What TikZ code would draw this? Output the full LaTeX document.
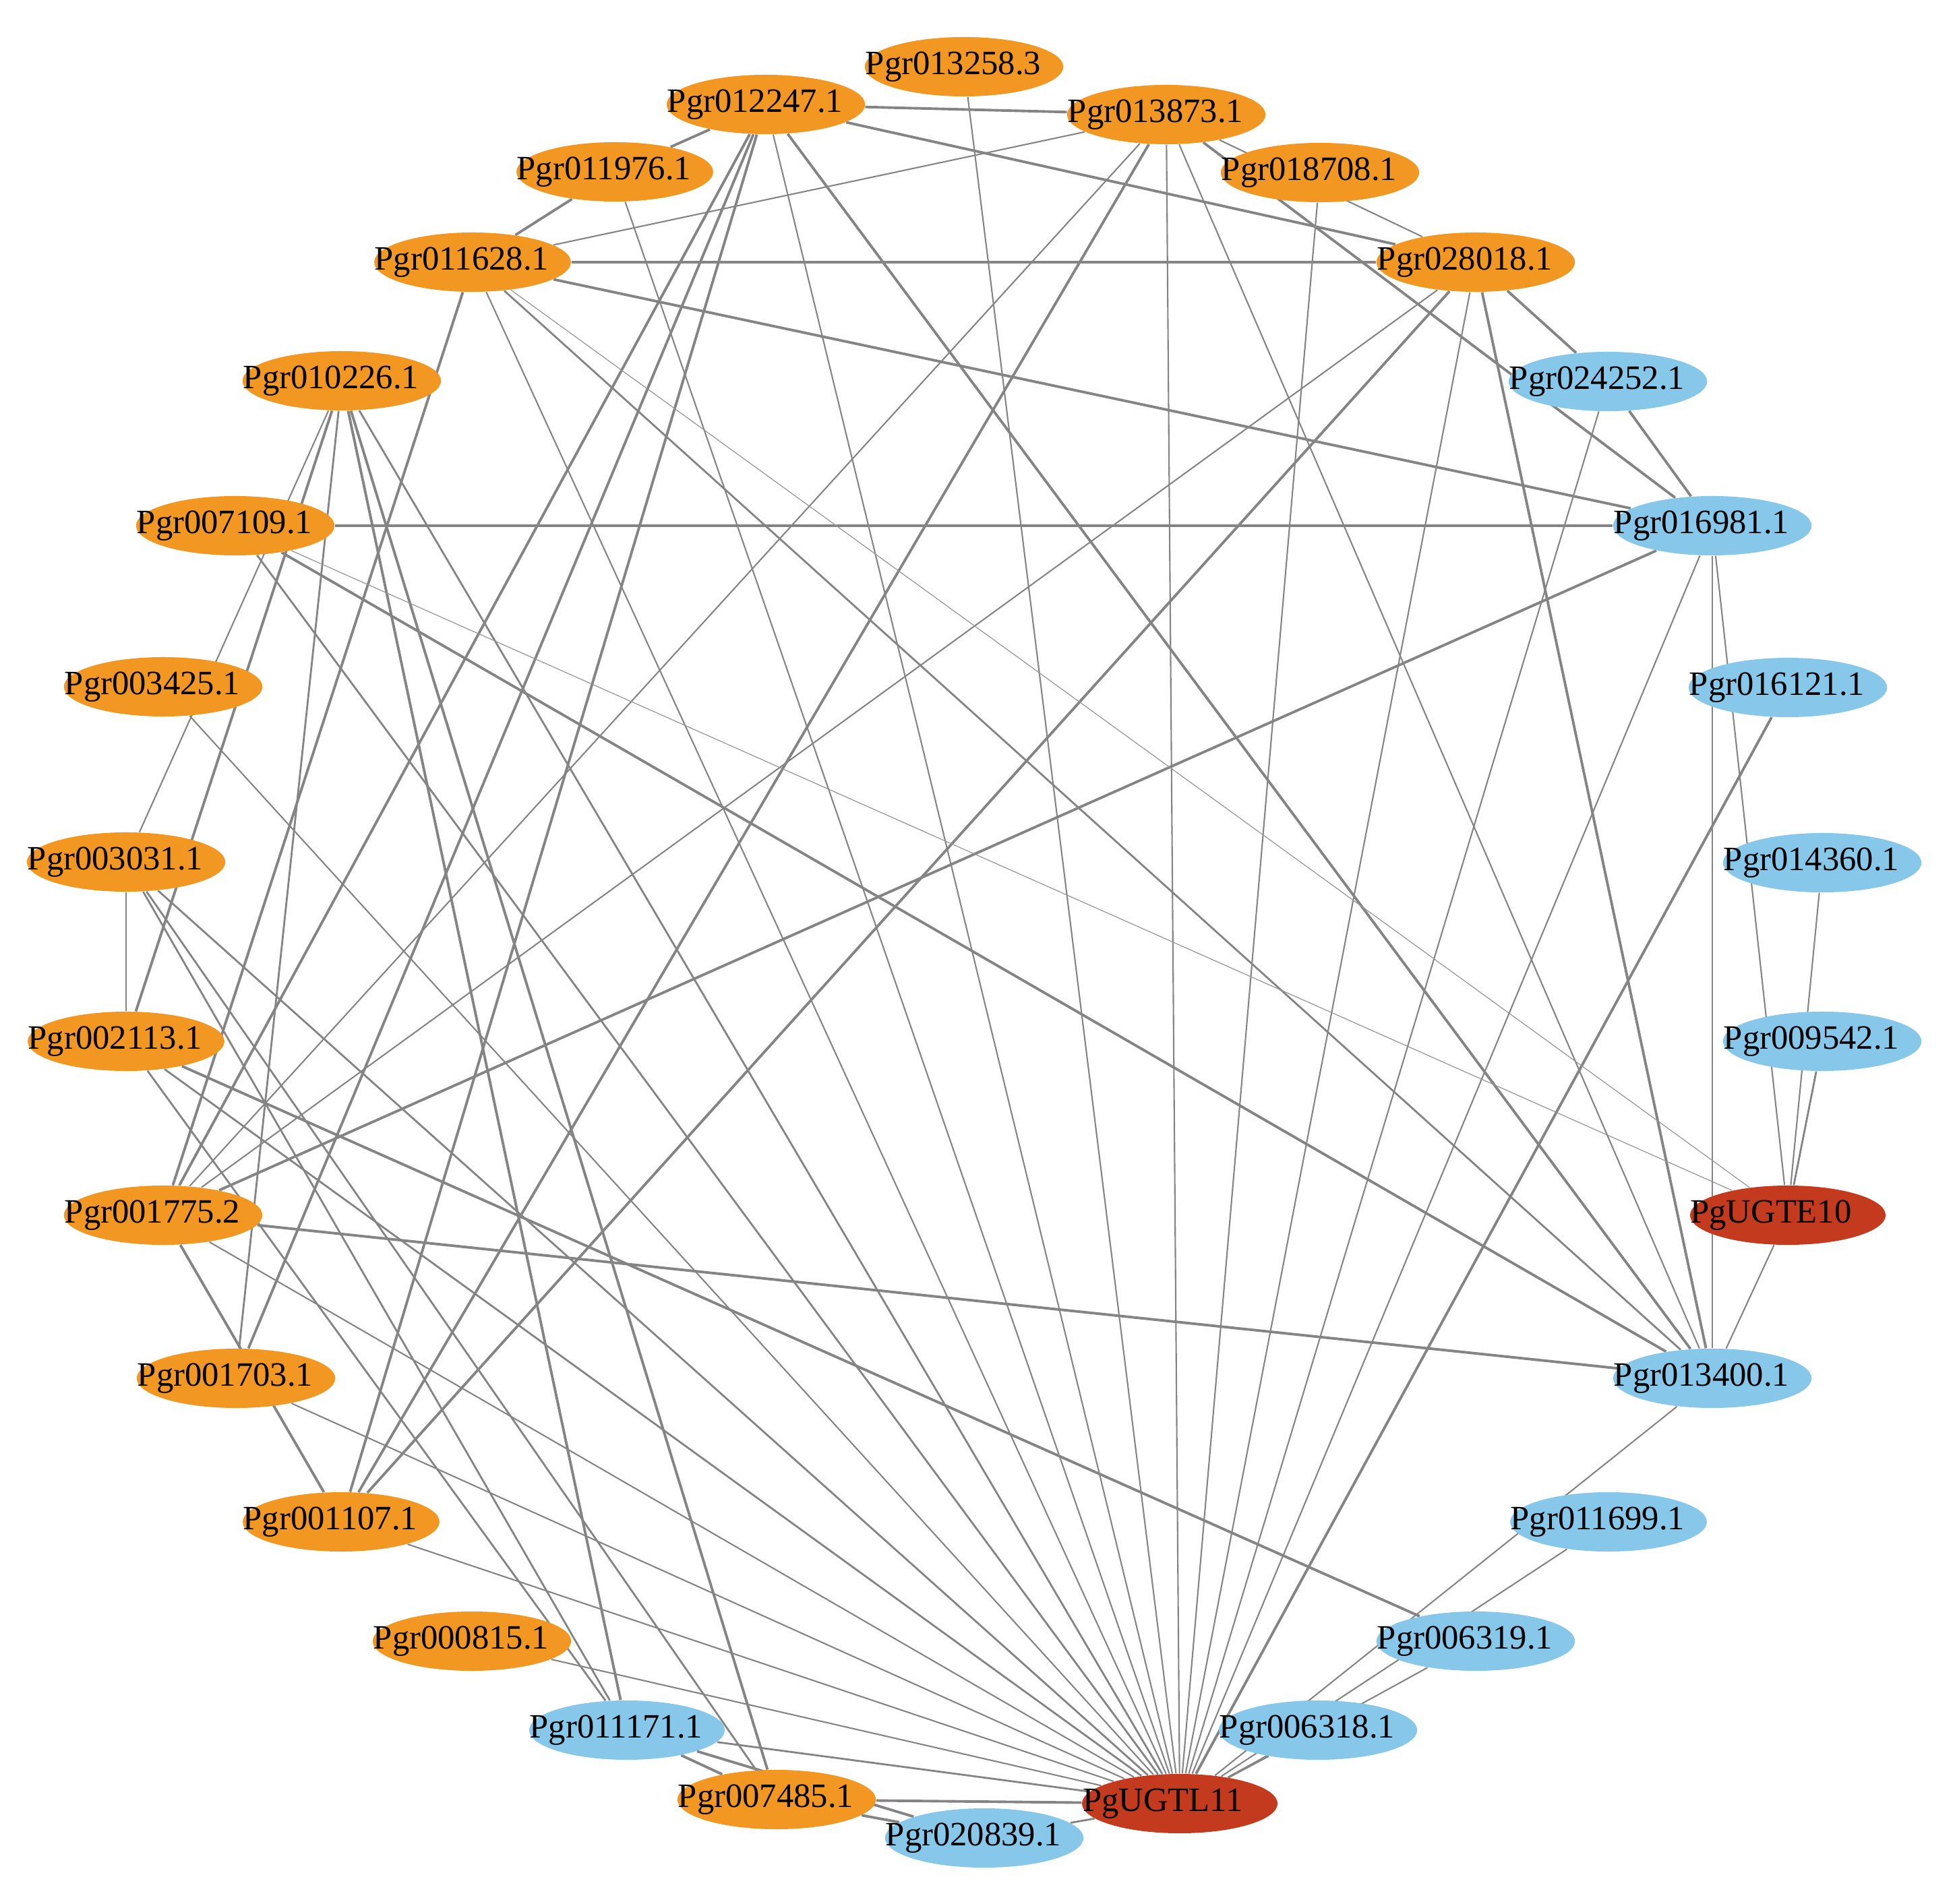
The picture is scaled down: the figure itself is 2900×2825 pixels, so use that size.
\documentclass[tikz,border=0pt]{standalone}
\usepackage{fontspec}
\setmainfont{Liberation Serif}
\usetikzlibrary{shapes.geometric}
\definecolor{orn}{RGB}{242,152,34}
\definecolor{blu}{RGB}{135,199,234}
\definecolor{redn}{RGB}{196,58,30}
\definecolor{edg}{RGB}{132,132,132}
\pgfdeclarelayer{bg}
\pgfsetlayers{bg,main}
\tikzset{
  gnode/.style={ellipse, minimum width=2.9cm, minimum height=0.88cm,
    inner xsep=-0.1cm, inner ysep=0pt,
    font=\fontsize{14.4}{16}\selectfont, text=black,
    execute at begin node={\kern-0.32cm}},
  og/.style={gnode, fill=orn},
  bl/.style={gnode, fill=blu},
  rd/.style={gnode, fill=redn, execute at begin node={\kern-0.18cm}},
  thk/.style={draw=edg, line width=1.1pt},
  med/.style={draw=edg, line width=0.8pt},
  thn/.style={draw=edg, line width=0.6pt},
  vthn/.style={draw=edg!85, line width=0.35pt},
}
\begin{document}
\begin{tikzpicture}[x=0.01cm, y=-0.01cm]
\useasboundingbox (0,0) rectangle (2900,2825);
% nodes
\node[og] (a013258) at (1430,99)   {Pgr013258.3};
\node[og] (a012247) at (1136,155)  {Pgr012247.1};
\node[og] (a013873) at (1730,170)  {Pgr013873.1};
\node[og] (a011976) at (912,255)   {Pgr011976.1};
\node[og] (a018708) at (1958,256)  {Pgr018708.1};
\node[og] (a011628) at (701,389)   {Pgr011628.1};
\node[og] (a028018) at (2189,389)  {Pgr028018.1};
\node[og] (a010226) at (507,565)   {Pgr010226.1};
\node[bl] (a024252) at (2385,566)  {Pgr024252.1};
\node[og] (a007109) at (349,780)   {Pgr007109.1};
\node[bl] (a016981) at (2540,780)  {Pgr016981.1};
\node[og] (a003425) at (242,1019)  {Pgr003425.1};
\node[bl] (a016121) at (2652,1020) {Pgr016121.1};
\node[og] (a003031) at (187,1279)  {Pgr003031.1};
\node[bl] (a014360) at (2703,1280) {Pgr014360.1};
\node[og] (a002113) at (187,1545)  {Pgr002113.1};
\node[bl] (a009542) at (2703,1545) {Pgr009542.1};
\node[og] (a001775) at (242,1803)  {Pgr001775.2};
\node[rd] (aUGTE10) at (2652,1803) {PgUGTE10};
\node[og] (a001703) at (350,2045)  {Pgr001703.1};
\node[bl] (a013400) at (2540,2045) {Pgr013400.1};
\node[og] (a001107) at (506,2258)  {Pgr001107.1};
\node[bl] (a011699) at (2386,2258) {Pgr011699.1};
\node[og] (a000815) at (700,2435)  {Pgr000815.1};
\node[bl] (a006319) at (2189,2435) {Pgr006319.1};
\node[bl] (a011171) at (930,2567)  {Pgr011171.1};
\node[bl] (a006318) at (1955,2567) {Pgr006318.1};
\node[og] (a007485) at (1152,2670) {Pgr007485.1};
\node[rd] (aUGTL11) at (1750,2676) {PgUGTL11};
\node[bl] (a020839) at (1460,2727) {Pgr020839.1};
% edges
\begin{pgfonlayer}{bg}
% thick edges
\draw[thk] (a012247) -- (a013873);
\draw[thk] (a012247) -- (a028018);
\draw[thk] (a012247) -- (a011976);
\draw[thk] (a011976) -- (a011628);
\draw[thk] (a011628) -- (a028018);
\draw[thk] (a011628) -- (a016981);
\draw[thk] (a007109) -- (a016981);
\draw[thk] (a001775) -- (a016981);
\draw[thk] (a001775) -- (a013400);
\draw[thk] (a028018) -- (a024252);
\draw[thk] (a013873) -- (a016981);
\draw[thk] (a024252) -- (a016981);
\draw[thk] (a028018) -- (a001107);
\draw[thk] (a028018) -- (a013400);
\draw[thk] (a016121) -- (aUGTL11);
\draw[thk] (a013873) -- (a001107);
\draw[thk] (a012247) -- (a013400);
\draw[thk] (a002113) -- (a006319);
\draw[thk] (a007109) -- (a013400);
\draw[thk] (a012247) -- (a001775);
\draw[thk] (a012247) -- (a001703);
\draw[thk] (a012247) -- (a001107);
\draw[thk] (a011628) -- (a001775);
\draw[thk] (a010226) -- (a002113);
\draw[thk] (a010226) -- (a011171);
\draw[thk] (a010226) -- (a007485);
\draw[thk] (a001775) -- (a001107);
\draw[thk] (a007485) -- (aUGTL11);
\draw[thk] (a011171) -- (a007485);
\draw[thk] (a011171) -- (a020839);
\draw[thk] (a007485) -- (a020839);
% medium edges
\draw[med] (a003031) -- (a011171);
\draw[med] (a003031) -- (a007485);
\draw[med] (a002113) -- (a011171);
\draw[med] (a010226) -- (a001703);
\draw[med] (a003031) -- (a002113);
\draw[med] (a009542) -- (aUGTE10);
\draw[med] (a011628) -- (a013400);
% fan into PgUGTL11
\draw[med] (a003031) -- (aUGTL11);
\draw[med] (a002113) -- (aUGTL11);
\draw[thn] (a001775) -- (aUGTL11);
\draw[thn] (a001703) -- (aUGTL11);
\draw[thn] (a001107) -- (aUGTL11);
\draw[thn] (a000815) -- (aUGTL11);
\draw[med] (a011171) -- (aUGTL11);
\draw[thn] (a003425) -- (aUGTL11);
\draw[med] (a007109) -- (aUGTL11);
\draw[med] (a010226) -- (aUGTL11);
\draw[thn] (a011628) -- (aUGTL11);
\draw[thn] (a011976) -- (aUGTL11);
\draw[thn] (a012247) -- (aUGTL11);
\draw[thn] (a013258) -- (aUGTL11);
\draw[thn] (a013873) -- (aUGTL11);
\draw[thn] (a018708) -- (aUGTL11);
\draw[thn] (a028018) -- (aUGTL11);
\draw[thn] (a024252) -- (aUGTL11);
\draw[thn] (a016981) -- (aUGTL11);
\draw[thn] (a013400) -- (aUGTL11);
\draw[thn] (a011699) -- (aUGTL11);
\draw[thn] (a006319) -- (aUGTL11);
\draw[thn] (a006318) -- (aUGTL11);
\draw[med] (a020839) -- (aUGTL11);
% thin edges
\draw[thn] (a013873) -- (a011628);
\draw[thn] (a013873) -- (a028018);
\draw[thn] (a028018) -- (a001775);
\draw[thn] (a013873) -- (a001775);
\draw[thn] (a013873) -- (a013400);
\draw[thn] (a016981) -- (a013400);
\draw[thn] (a016981) -- (aUGTE10);
\draw[thn] (a014360) -- (aUGTE10);
\draw[thn] (aUGTE10) -- (a013400);
\draw[thn] (a010226) -- (a003031);
\draw[vthn] (a011628) -- (aUGTE10);
\draw[vthn] (a007109) -- (aUGTE10);
\end{pgfonlayer}
\end{tikzpicture}
\end{document}
